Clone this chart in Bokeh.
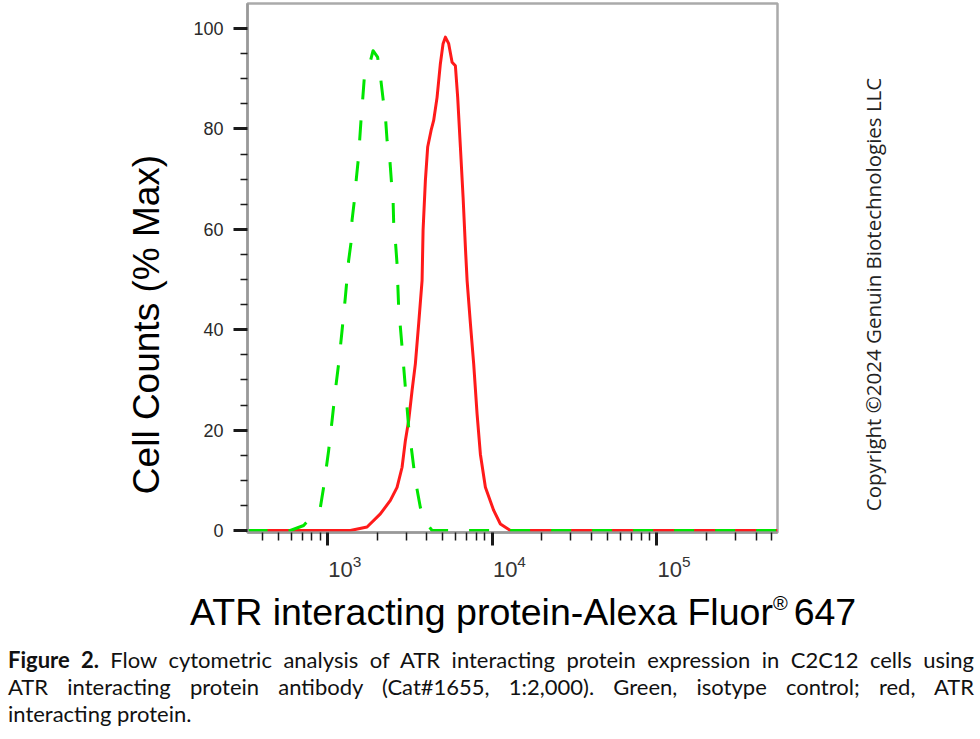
from math import pi
from bokeh.plotting import figure
from bokeh.models import (Range1d, FixedTicker, Label, Div, CustomJSTickFormatter,
                          LogAxis, LogScale, LogTickFormatter)
from bokeh.layouts import column, row
from bokeh.embed import file_html
from bokeh.resources import INLINE

# ---------------- data ----------------
# ATR interacting protein (red, solid)
atr_intensity = [325, 1370, 1731, 2085, 2399, 2634, 2826, 2959, 3099, 3250,
                 3403, 3565, 3738, 3791, 3915, 4043, 4240, 4397, 4611, 4829,
                 5015, 5180, 5425, 5689, 5958, 6153, 6390, 6636, 6854, 7019,
                 7352, 7697, 8072, 8453, 9066, 10183, 11183, 12867, 540000]
atr_pct = [0, 0, 0.7, 3.3, 6.0, 8.6, 12.6, 17.9, 21.9, 27.9,
           33.2, 41.2, 49.8, 59.8, 69.7, 76.4, 79.7, 81.7, 86.3, 93.0,
           97.0, 98.3, 97.0, 93.3, 92.6, 86.3, 76.4, 66.4, 56.4, 49.8,
           41.2, 33.2, 23.2, 15.2, 8.6, 4.0, 1.3, 0, 0]

# Isotype control (green, dashed)
iso_intensity = [325, 592, 713, 901, 943, 1011, 1061, 1111, 1163, 1220,
                 1278, 1338, 1384, 1403, 1449, 1490, 1532, 1565, 1598, 1632,
                 1667, 1763, 1883, 2007, 2085, 2166, 2236, 2291, 2375, 2432,
                 2491, 2512, 2572, 2634, 2656, 2694, 2826, 2959, 3099, 3250,
                 3403, 3650, 4009, 4299, 540000]
iso_pct = [0, 0, 1.0, 4.6, 8.6, 15.9, 21.9, 27.9, 33.2, 39.8,
           46.5, 53.8, 57.4, 61.8, 65.7, 70.1, 74.0, 78.3, 82.7, 86.3,
           90.3, 91.9, 95.6, 94.3, 90.6, 86.0, 82.7, 77.7, 74.4, 69.7,
           66.0, 61.4, 57.8, 53.1, 49.8, 44.5, 36.5, 28.5, 20.6, 15.3,
           10.0, 4.6, 1.3, 0, 0]

x_range_limits = [325, 540000]
y_range_limits = [-0.4, 105.0]
x_major = [1e3, 1e4, 1e5]
x_minor_mult = [2, 3, 4, 5, 6, 7, 8, 9]
x_minor_decades = [1e2, 1e3, 1e4, 1e5]
y_major = [0, 20, 40, 60, 80, 100]
y_minor = [5, 10, 15, 25, 30, 35, 45, 50, 55, 65, 70, 75, 85, 90, 95]

y_title = "Cell Counts (% Max)"
x_title_main = "ATR interacting protein-Alexa Fluor"
x_title_mark = "\u00ae"
x_title_tail = "647"
copyright_text = "Copyright \u00a92024 Genuin Biotechnologies LLC"
caption_bold = "Figure 2."
caption_line1 = "Flow cytometric analysis of ATR interacting protein expression in C2C12 cells using"
caption_line2 = "ATR interacting protein antibody (Cat#1655, 1:2,000). Green, isotype control; red, ATR"
caption_line3 = "interacting protein."

# ---------------- layout constants (canvas pixels) ----------------
W = 980
ROW_H = 585          # height of the plot row
LEFT_W = 180         # strip holding the y title
RIGHT_W = 150        # strip holding the copyright
BOT_H = 739 - ROW_H  # html strip: x title + caption
FL, FR, FT, FB = 247, 777, 3, 532   # frame edges
LABEL_SHIFT_PX = 17  # tick labels sit right of their ticks in the reference
PX_PER_DECADE = 164.5

AX_FONT = "Liberation Sans"


def no_align(f):
    try:
        f.frame_align = False
    except Exception:
        pass


def blank(width, height):
    f = figure(width=width, height=height, x_range=Range1d(0, width),
               y_range=Range1d(0, height), x_axis_location=None,
               y_axis_location=None, toolbar_location=None, title=None,
               output_backend="svg", min_border=0)
    f.xgrid.visible = False
    f.ygrid.visible = False
    f.outline_line_color = None
    f.background_fill_color = "white"
    f.border_fill_color = "white"
    no_align(f)
    return f


# ---------------- main plot ----------------
PW = W - LEFT_W - RIGHT_W
p = figure(width=PW, height=ROW_H, x_axis_type="log",
           x_range=Range1d(*x_range_limits), y_range=Range1d(*y_range_limits),
           output_backend="svg", toolbar_location=None, title=None,
           min_border_left=FL - LEFT_W, min_border_right=(LEFT_W + PW) - FR,
           min_border_top=FT, min_border_bottom=ROW_H - FB)
no_align(p)
p.xgrid.visible = False
p.ygrid.visible = False
p.outline_line_color = "#aaaaaa"
p.outline_line_width = 2.5
p.background_fill_color = "white"
p.border_fill_color = "white"

xa = p.xaxis[0]
xa.ticker = FixedTicker(ticks=x_major,
                        minor_ticks=[m * d for d in x_minor_decades for m in x_minor_mult])
xa.formatter = CustomJSTickFormatter(code="return ''")
xa.major_label_text_font_size = "0px"
xa.major_label_standoff = 0
xa.axis_line_color = "#999999"
xa.axis_line_width = 2.5
xa.major_tick_line_color = "#1a1a1a"
xa.major_tick_line_width = 3
xa.major_tick_out = 13
xa.major_tick_in = 0
xa.minor_tick_line_color = "#1a1a1a"
xa.minor_tick_line_width = 1.5
xa.minor_tick_out = 8
xa.minor_tick_in = 0

# second log axis, shifted right, that only carries the 10^n labels
shift = 10 ** (-LABEL_SHIFT_PX / PX_PER_DECADE)
p.extra_x_ranges = {"labels": Range1d(x_range_limits[0] * shift, x_range_limits[1] * shift)}
p.extra_x_scales = {"labels": LogScale()}
la = LogAxis(x_range_name="labels", ticker=FixedTicker(ticks=x_major),
             formatter=LogTickFormatter())
la.axis_line_color = None
la.major_tick_line_color = None
la.minor_tick_line_color = None
la.major_tick_out = 0
la.major_tick_in = 0
la.minor_tick_out = 0
la.minor_tick_in = 0
la.major_label_standoff = 9
la.major_label_text_font = AX_FONT
la.major_label_text_font_size = "22px"
la.major_label_text_color = "#333333"
p.add_layout(la, "below")

ya = p.yaxis[0]
ya.ticker = FixedTicker(ticks=y_major, minor_ticks=y_minor)
ya.axis_line_color = "#999999"
ya.axis_line_width = 2.5
ya.major_tick_line_color = "#1a1a1a"
ya.major_tick_line_width = 3
ya.major_tick_out = 14
ya.major_tick_in = 0
ya.minor_tick_line_color = "#1a1a1a"
ya.minor_tick_line_width = 1.5
ya.minor_tick_out = 7
ya.minor_tick_in = 0
ya.major_label_text_font = AX_FONT
ya.major_label_text_font_size = "18px"
ya.major_label_text_color = "#2a2a2a"
ya.major_label_standoff = 10

# curves: red first, green dashed on top
p.line(atr_intensity, atr_pct, line_color="#ff1a1a", line_width=3,
       line_join="round")
p.line(iso_intensity, iso_pct, line_color="#00e600", line_width=3,
       line_dash="20 21", line_join="round")

# ---------------- y title strip ----------------
left = blank(LEFT_W, ROW_H)
left.add_layout(Label(x=146, y=ROW_H - 324, text=y_title, angle=pi / 2,
                      text_align="center", text_baseline="middle",
                      text_font=AX_FONT, text_font_size="37px",
                      text_color="black"))

# ---------------- copyright strip ----------------
right = blank(RIGHT_W, ROW_H)
right.add_layout(Label(x=872 - (W - RIGHT_W), y=ROW_H - 294, text=copyright_text,
                       angle=pi / 2, text_align="center", text_baseline="middle",
                       text_font="Open Sans", text_font_size="20.5px",
                       text_color="#222222"))

# ---------------- x title + caption (html strip) ----------------
bottom_html = (
    f'<div style="position:relative;width:{W}px;height:{BOT_H}px;">'
    '<div style="position:absolute;left:185px;top:3px;white-space:nowrap;'
    f"font-family:'{AX_FONT}', Arial, sans-serif;font-size:37.5px;line-height:38px;color:#000;\">"
    f'{x_title_main}<span style="font-size:20px;position:relative;top:-15px;">{x_title_mark}</span>'
    f'<span style="margin-left:6px;">{x_title_tail}</span></div>'
    '<div style="position:absolute;left:3px;top:56px;width:966px;'
    'font-family:Lato, sans-serif;font-size:22px;line-height:27px;color:#111;">'
    '<div style="text-align:justify;text-align-last:justify;white-space:nowrap;">'
    f'<b>{caption_bold}</b> {caption_line1}</div>'
    '<div style="text-align:justify;text-align-last:justify;white-space:nowrap;">'
    f'{caption_line2}</div>'
    f'<div style="text-align:left;white-space:nowrap;">{caption_line3}</div>'
    '</div></div>'
)
bottom = Div(text=bottom_html, width=W, height=BOT_H)

layout = column(row(left, p, right, spacing=0), bottom, spacing=0)
open("out.html", "w").write(file_html(layout, INLINE, title="ATR interacting protein flow cytometry"))
